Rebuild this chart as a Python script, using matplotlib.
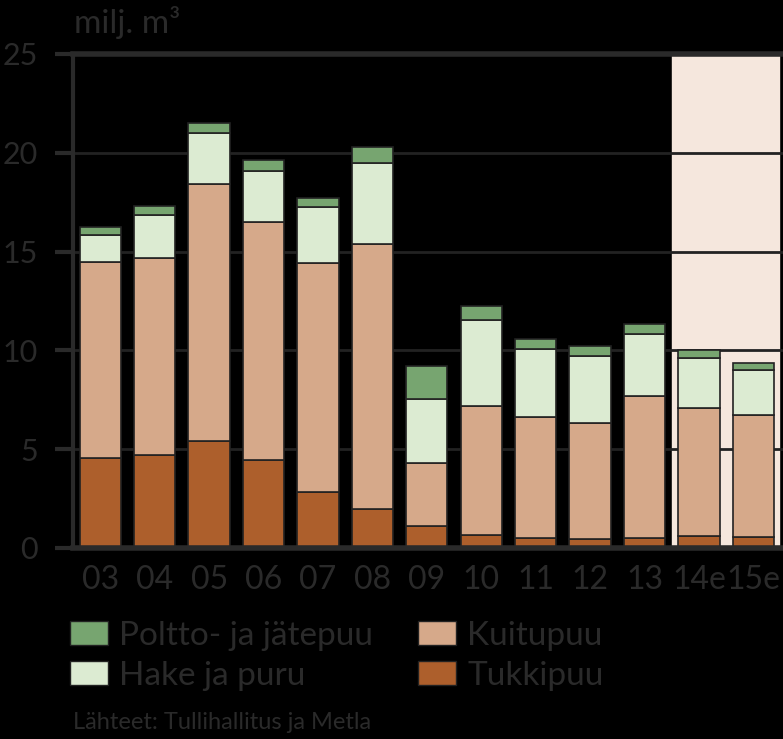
import matplotlib.pyplot as plt
from matplotlib.patches import Patch

years = ["03", "04", "05", "06", "07", "08", "09", "10", "11", "12", "13", "14e", "15e"]
tukki = [4.55, 4.70, 5.40, 4.45, 2.85, 1.95, 1.10, 0.65, 0.50, 0.45, 0.50, 0.60, 0.55]
kuitu = [9.90, 9.95, 13.00, 12.05, 11.55, 13.45, 3.20, 6.55, 6.15, 5.85, 7.20, 6.50, 6.20]
hake = [1.40, 2.20, 2.60, 2.60, 2.85, 4.10, 3.25, 4.35, 3.40, 3.40, 3.15, 2.50, 2.25]
poltto = [0.40, 0.45, 0.50, 0.55, 0.45, 0.80, 1.65, 0.70, 0.50, 0.50, 0.50, 0.40, 0.35]

c_poltto = "#77a570"
c_hake = "#dcebd2"
c_kuitu = "#d6a98a"
c_tukki = "#ad5f2c"
txt = "#2a2a2a"

plt.rcParams["font.family"] = ["Lato", "DejaVu Sans"]

fig = plt.figure(figsize=(7.83, 7.39), dpi=100, facecolor="black")
ax = fig.add_axes([0.093, 0.2585, 0.907, 0.6685], facecolor="black")

x = list(range(len(years)))
w = 0.76
ec = "#222222"

# forecast shading
ax.axvspan(10.5, 12.47, ymin=0, ymax=1, color="#f5e7dd", zorder=0)
for g in [5, 10, 15, 20]:
    ax.axhline(g, color="#222222", lw=2, zorder=1)

b1 = [t for t in tukki]
b2 = [t + k for t, k in zip(tukki, kuitu)]
b3 = [a + h for a, h in zip(b2, hake)]
ax.bar(x, tukki, w, color=c_tukki, edgecolor=ec, lw=1.2, zorder=2)
ax.bar(x, kuitu, w, bottom=b1, color=c_kuitu, edgecolor=ec, lw=1.2, zorder=2)
ax.bar(x, hake, w, bottom=b2, color=c_hake, edgecolor=ec, lw=1.2, zorder=2)
ax.bar(x, poltto, w, bottom=b3, color=c_poltto, edgecolor=ec, lw=1.2, zorder=2)

ax.set_xlim(-0.505, 12.546)
ax.set_ylim(0, 25)
ax.set_xticks(x)
ax.set_xticklabels(years)
ax.set_yticks([0, 5, 10, 15, 20, 25])

ax.spines["right"].set_visible(False)
ax.spines["left"].set_color(txt)
ax.spines["left"].set_linewidth(3)
ax.spines["bottom"].set_color(txt)
ax.spines["bottom"].set_linewidth(4)
ax.spines["top"].set_color(txt)
ax.spines["top"].set_linewidth(4)

ax.tick_params(axis="y", length=13, width=3, color=txt, labelcolor=txt,
               labelsize=22, pad=12)
ax.tick_params(axis="x", length=0, labelcolor=txt, labelsize=23, pad=12)

fig.text(0.095, 0.97, "milj. m³", color=txt, fontsize=24, va="center")

handles = [Patch(facecolor=c_poltto, edgecolor=ec, label="Poltto- ja jätepuu"),
           Patch(facecolor=c_hake, edgecolor=ec, label="Hake ja puru"),
           Patch(facecolor=c_kuitu, edgecolor=ec, label="Kuitupuu"),
           Patch(facecolor=c_tukki, edgecolor=ec, label="Tukkipuu")]
leg = fig.legend(handles=handles, ncol=2, loc="upper left",
                 bbox_to_anchor=(0.09, 0.16), frameon=False, fontsize=24,
                 handlelength=1.14, handleheight=0.75, handletextpad=0.33,
                 columnspacing=1.35, labelspacing=0.3, borderaxespad=0,
                 borderpad=0)
for t in leg.get_texts():
    t.set_color(txt)

fig.text(0.093, 0.008, "Lähteet: Tullihallitus ja Metla", color=txt,
         fontsize=17, va="bottom")

fig.savefig("out.png", dpi=100, facecolor="black")
